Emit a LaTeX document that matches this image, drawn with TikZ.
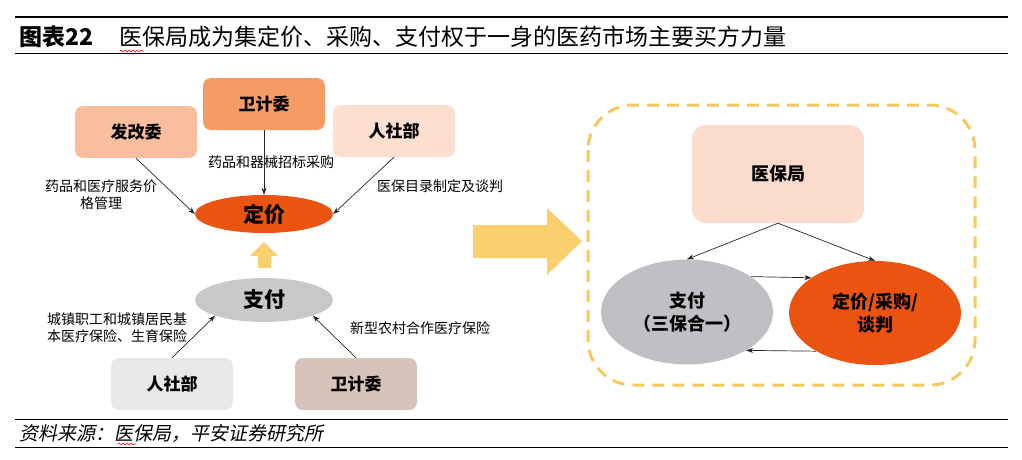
\documentclass[tikz,border=0pt]{standalone}
\usepackage{fontspec}
\setmainfont{Noto Sans CJK SC}
\newfontfamily\cjkit[FakeSlant=0.2]{Noto Sans CJK SC}
\usetikzlibrary{arrows.meta,decorations.pathmorphing,shapes.geometric}
\definecolor{wjwc}{HTML}{F59C64}
\definecolor{fgwc}{HTML}{F9BE9F}
\definecolor{rsbc}{HTML}{FCDFCF}
\definecolor{djc}{HTML}{EA5410}
\definecolor{zfc}{HTML}{C9C9C9}
\definecolor{rsbgc}{HTML}{E8E8E8}
\definecolor{wjwgc}{HTML}{D6C4BA}
\definecolor{yelc}{HTML}{FAD06E}
\definecolor{dashc}{HTML}{F7C85C}
\definecolor{ybjc}{HTML}{FBDCCC}
\definecolor{zfrc}{HTML}{C0BFC3}
\begin{document}
\begin{tikzpicture}[x=1pt,y=-1pt,
  box/.style={rounded corners=8pt, inner sep=0pt, minimum width=122pt, minimum height=52pt,
    font=\fontsize{17pt}{20pt}\selectfont\bfseries},
  oval/.style={ellipse, inner sep=0pt, align=center, font=\fontsize{21pt}{25pt}\selectfont\bfseries},
  lbl/.style={align=center, font=\fontsize{14pt}{17pt}\selectfont},
  conn/.style={-{Stealth[length=7pt,width=5pt]}, line width=0.7pt, black!85},
  squig/.style={red, line width=0.6pt, decorate, decoration={snake, amplitude=1pt, segment length=4pt}}]
\useasboundingbox (0,0) rectangle (1022,459);
%\draw[step=50,gray,very thin] (0,0) grid (1022,459); %background grid
%title
\draw[line width=1.2pt] (15,17) -- (1008,17);
\draw[line width=0.8pt] (15,53) -- (1008,53);
\node[anchor=west, inner sep=0pt, font=\fontsize{23pt}{27pt}\selectfont\bfseries] (ttlno) at (19,37) {图表22};
\node[anchor=west, inner sep=0pt, font=\fontsize{23pt}{27pt}\selectfont] (ttl) at (119,37) {医保局成为集定价、采购、支付权于一身的医药市场主要买方力量};
\draw[squig] (120,51) -- (144,51);
%pricing side
\node[box, fill=wjwc] (wjw) at (264,104) {卫计委};
\node[box, fill=fgwc] (fgw) at (136,132) {发改委};
\node[box, fill=rsbc] (rsb) at (394,131) {人社部};
\node[oval, fill=djc, minimum width=138pt, minimum height=38pt] (dj) at (264,214) {定价};
\node[lbl] (l1) at (101,195) {药品和医疗服务价\\格管理};
\node[lbl] (l2) at (271,162) {药品和器械招标采购};
\node[lbl] (l3) at (440,186) {医保目录制定及谈判};
\draw[conn] (fgw.south) -- (dj.west);
\draw[conn] (wjw.south) -- (dj.north);
\draw[conn] (rsb.south) -- (dj.east);
%small up arrow
\fill[yelc] (258,268) -- (258,256) -- (250,256) -- (264,242) -- (278,256) -- (271,256) -- (271,268) -- cycle;
%payment side
\node[oval, fill=zfc, minimum width=138pt, minimum height=44pt] (zf) at (264,300) {支付};
\node[box, fill=rsbgc] (rsbg) at (172,384) {人社部};
\node[box, fill=wjwgc] (wjwg) at (356,384) {卫计委};
\node[lbl] (l4) at (117,328) {城镇职工和城镇居民基\\本医疗保险、生育保险};
\node[lbl] (l5) at (420,328) {新型农村合作医疗保险};
\draw[conn] (rsbg.north) -- (zf.south west);
\draw[conn] (wjwg.north) -- (zf.south east);
%big arrow
\fill[yelc] (473,225) -- (547,225) -- (547,208) -- (582,241) -- (547,275) -- (547,258) -- (473,258) -- cycle;
%right panel
\draw[dashc, line width=3pt, dash pattern=on 12pt off 8pt, rounded corners=45pt] (588,105) rectangle (975,385);
\node[box, fill=ybjc, minimum width=172pt, minimum height=98pt, rounded corners=14pt, font=\fontsize{18pt}{22pt}\selectfont\bfseries] (ybj) at (778,174) {医保局};
\node[oval, fill=zfrc, minimum width=172pt, minimum height=105pt, font=\fontsize{18pt}{23pt}\selectfont\bfseries] (zfr) at (687,312) {支付\\（三保合一）};
\node[oval, fill=djc, minimum width=172pt, minimum height=104pt, font=\fontsize{18pt}{23pt}\selectfont\bfseries] (dcg) at (875,313) {定价/采购/\\谈判};
\draw[conn] (ybj.south) -- (zfr.north);
\draw[conn] (ybj.south) -- (dcg.north);
\draw[conn] (zfr.29) -- (dcg.151);
\draw[conn] (dcg.213) -- (zfr.327);
%source
\draw[line width=0.8pt] (15,419) -- (1008,419);
\draw[line width=0.8pt] (15,447) -- (1008,447);
\node[anchor=west, inner sep=0pt, font=\fontsize{19pt}{22pt}\selectfont\cjkit] (src) at (19,433) {资料来源：医保局，平安证券研究所};
\draw[squig] (118,444) -- (136,444);
\end{tikzpicture}
\end{document}
